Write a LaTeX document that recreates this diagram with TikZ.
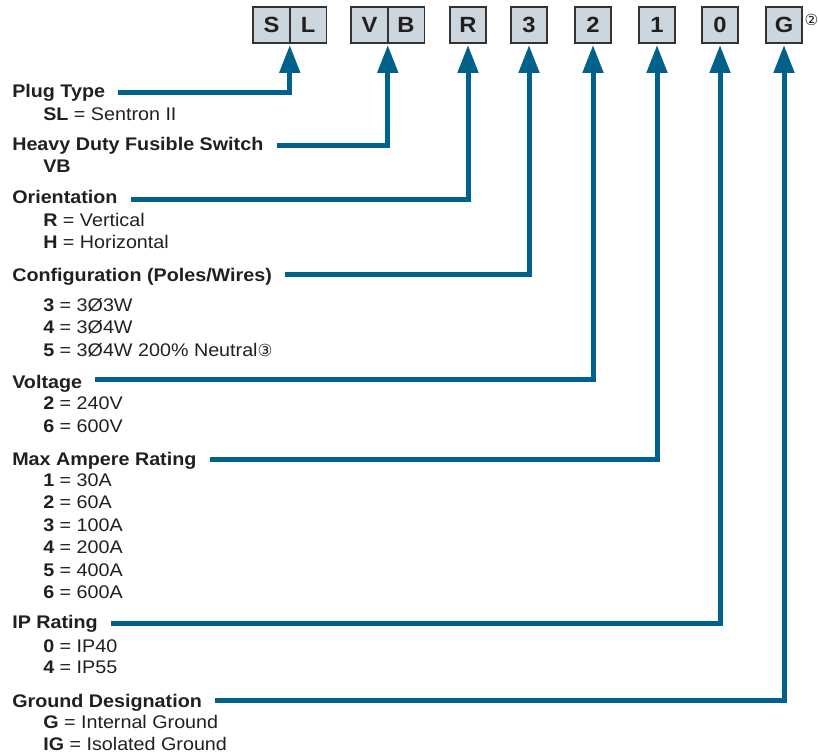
\documentclass[tikz,border=0pt]{standalone}
\usepackage{fontspec}
\setmainfont{Liberation Sans}[FakeStretch=1.08]
\newfontfamily\circfont{DejaVu Sans}
\usepackage{xcolor}
\usetikzlibrary{positioning, arrows.meta}

\definecolor{leadblue}{HTML}{00618A}
\definecolor{boxfill}{HTML}{CBD6DE}
\definecolor{inkgrey}{HTML}{231F20}

\tikzset{
    codebox/.style={draw=black!80, fill=boxfill, line width=1.2pt, outer sep=0pt, inner sep=0pt,
        minimum width=27.4pt, minimum height=27pt, text=inkgrey, font=\fontsize{16.5}{18}\selectfont\bfseries},
    heading/.style={anchor=base west, inner sep=0pt, text=inkgrey, font=\fontsize{13.7}{16}\selectfont\bfseries},
    choice/.style={anchor=base west, inner sep=0pt, text=inkgrey, font=\fontsize{13.7}{16}\selectfont},
    note/.style={inner sep=0pt, text=inkgrey, font=\circfont\fontsize{11.5}{13}\selectfont},
    lead/.style={draw=leadblue, line width=3.75pt, line join=miter,
        -{Triangle[length=21pt, width=15pt]}, shorten >=1.5pt},
}

\begin{document}
\begin{tikzpicture}[x=0.75pt, y=-0.75pt]
    \useasboundingbox (0,0) rectangle (818,752);

    % code boxes
    \node[codebox] (boxS) at (271.5, 25) {S};
    \node[codebox, right=0pt of boxS] (boxL) {L};
    \node[codebox] (boxV) at (369.5, 25) {V};
    \node[codebox, right=0pt of boxV] (boxB) {B};
    \node[codebox] (boxR) at (468, 25) {R};
    \node[codebox] (box3) at (529, 25) {3};
    \node[codebox] (box2) at (593, 25) {2};
    \node[codebox] (box1) at (657, 25) {1};
    \node[codebox] (box0) at (720, 25) {0};
    \node[codebox] (boxG) at (784, 25) {G};
    \node[note] (noteG) at (811.5, 20) {②};

    % headings and choices
    \node[heading] (plugT) at (12, 98) {Plug Type};
    \node[choice] (plugSL) at (43, 121) {\textbf{SL} = Sentron II};

    \node[heading] (dutyT) at (12, 151) {Heavy Duty Fusible Switch};
    \node[choice] (dutyVB) at (43, 173) {\textbf{VB}};

    \node[heading] (orientT) at (12, 204) {Orientation};
    \node[choice] (orientR) at (43, 227) {\textbf{R} = Vertical};
    \node[choice] (orientH) at (43, 249) {\textbf{H} = Horizontal};

    \node[heading] (configT) at (12, 282) {Configuration (Poles/Wires)};
    \node[choice] (config3) at (43, 312) {\textbf{3} = 3Ø3W};
    \node[choice] (config4) at (43, 334) {\textbf{4} = 3Ø4W};
    \node[choice] (config5) at (43, 357) {\textbf{5} = 3Ø4W 200\% Neutral{\circfont\fontsize{12.5}{14}\selectfont ③}};

    \node[heading] (voltT) at (12, 388) {Voltage};
    \node[choice] (volt2) at (43, 410) {\textbf{2} = 240V};
    \node[choice] (volt6) at (43, 432) {\textbf{6} = 600V};

    \node[heading] (ampT) at (12, 465) {Max Ampere Rating};
    \node[choice] (amp1) at (43, 486) {\textbf{1} = 30A};
    \node[choice] (amp2) at (43, 508) {\textbf{2} = 60A};
    \node[choice] (amp3) at (43, 531) {\textbf{3} = 100A};
    \node[choice] (amp4) at (43, 553) {\textbf{4} = 200A};
    \node[choice] (amp5) at (43, 576) {\textbf{5} = 400A};
    \node[choice] (amp6) at (43, 598) {\textbf{6} = 600A};

    \node[heading] (ipT) at (12, 628) {IP Rating};
    \node[choice] (ip0) at (43, 652) {\textbf{0} = IP40};
    \node[choice] (ip4) at (43, 673) {\textbf{4} = IP55};

    \node[heading] (gndT) at (12, 707) {Ground Designation};
    \node[choice] (gndG) at (43, 728) {\textbf{G} = Internal Ground};
    \node[choice] (gndIG) at (43, 750) {\textbf{IG} = Isolated Ground};

    % leaders
    \draw[lead] (plugT.base east) ++(13,-5) -| (boxS.south east);
    \draw[lead] (dutyT.base east) ++(13,-5) -| (boxV.south east);
    \draw[lead] (orientT.base east) ++(13,-4) -| (boxR);
    \draw[lead] (configT.base east) ++(13,-7) -| (box3);
    \draw[lead] (voltT.base east) ++(13,-8) -| (box2);
    \draw[lead] (ampT.base east) ++(13,-6) -| (box1);
    \draw[lead] (ipT.base east) ++(13,-5) -| (box0);
    \draw[lead] (gndT.base east) ++(13,-7) -| (boxG);
\end{tikzpicture}
\end{document}
